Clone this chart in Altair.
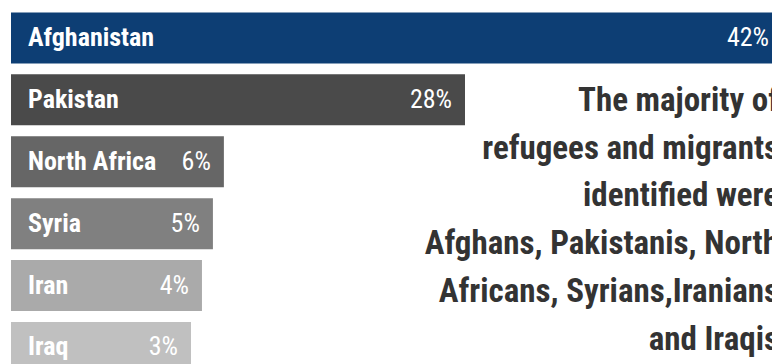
import altair as alt
import pandas as pd

countries = ["Afghanistan", "Pakistan", "North Africa", "Syria", "Iran", "Iraq"]
shares = [42, 28, 6, 5, 4, 3]
colors = ["#0d3e74", "#4a4a4a", "#666666", "#808080", "#aaaaaa", "#c0c0c0"]
note_lines = [
    "The majority of",
    "refugees and migrants",
    "identified were",
    "Afghans, Pakistanis, North",
    "Africans, Syrians,Iranians",
    "and Iraqis",
]

df = pd.DataFrame({"country": countries, "share": shares,
                   "label": [f"{s}%" for s in shares]})

FONT = "Roboto Condensed, Liberation Sans Narrow, DejaVu Sans Condensed, sans-serif"

y = alt.Y("country:N", sort=countries, axis=None,
          scale=alt.Scale(range=[4.4, 365], paddingInner=0.176, paddingOuter=0))
x = alt.X("share:Q", axis=None,
          scale=alt.Scale(domain=[0, 3, 28, 42], range=[0, 180, 454, 771], nice=False))

base = alt.Chart(df)
bars = base.mark_bar(cornerRadius=0).encode(
    y=y, x=x,
    color=alt.Color("country:N", scale=alt.Scale(domain=countries, range=colors), legend=None),
)
names = base.mark_text(align="left", baseline="middle", font=FONT, fontSize=26,
                       fontWeight="bold", color="white").encode(
    y=y, x=alt.value(17), text="country:N")
pcts = base.mark_text(align="right", baseline="middle", dx=-13, font=FONT, fontSize=26,
                      color="white").encode(y=y, x=x, text="label:N")

note = alt.Chart(pd.DataFrame({"n": [0]})).mark_text(
    align="right", baseline="alphabetic", font=FONT, fontSize=33, fontWeight="bold",
    color="#333333", lineHeight=47.9,
).encode(x=alt.value(768), y=alt.value(102.7), text=alt.value(note_lines))

chart = alt.layer(bars, names, pcts, note).properties(
    width=761, height=356,
    autosize=alt.AutoSizeParams(type="none"),
    padding={"left": 3, "top": 0, "right": 0, "bottom": 0},
).configure_view(stroke=None)

chart.save("out.html", embed_options={"renderer": "svg", "actions": False})
